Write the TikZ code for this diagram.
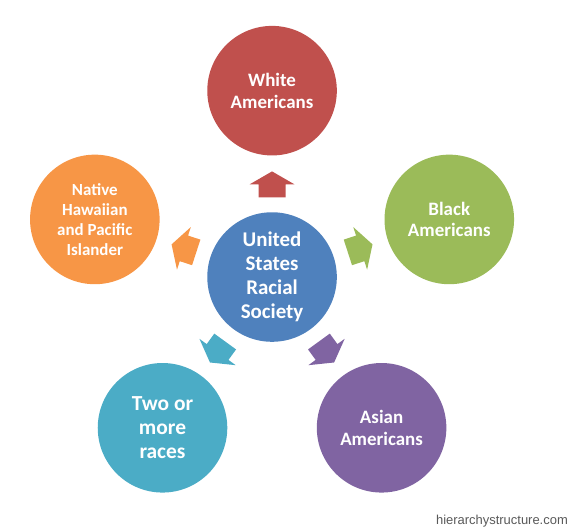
\documentclass[tikz,border=0pt]{standalone}
\usepackage{fontspec}
\setmainfont{Carlito}
\newfontfamily\markfont{Liberation Sans}
\definecolor{hubblue}{HTML}{4F81BD}
\definecolor{whitered}{HTML}{C0504D}
\definecolor{blackgreen}{HTML}{9BBB59}
\definecolor{asianpurple}{HTML}{8064A2}
\definecolor{twoaqua}{HTML}{4BACC6}
\definecolor{nativeorange}{HTML}{F79646}
\definecolor{markgray}{HTML}{595959}

\begin{document}
\begin{tikzpicture}[
		x=1pt, y=1pt,
		group/.style={circle, minimum size=130pt, inner sep=0pt, align=center, text=white},
	]
		\useasboundingbox (0,0) rectangle (572,530);

		\node (hub) [group, fill=hubblue, font=\fontsize{21}{24}\selectfont\bfseries] at (273,252) {United\\States\\Racial\\Society};

		\node (white) [group, fill=whitered, font=\fontsize{19}{22}\selectfont\bfseries] at ([shift={(90:187pt)}]hub.center) {White\\Americans};
		\node (black) [group, fill=blackgreen, font=\fontsize{19}{22}\selectfont\bfseries] at ([shift={(18:187pt)}]hub.center) {Black\\Americans};
		\node (asian) [group, fill=asianpurple, font=\fontsize{19}{22}\selectfont\bfseries] at ([shift={(-54:187pt)}]hub.center) {Asian\\Americans};
		\node (multi) [group, fill=twoaqua, font=\fontsize{21.5}{24}\selectfont\bfseries] at ([shift={(-126:187pt)}]hub.center) {Two or\\more\\races};
		\node (native) [group, fill=nativeorange, font=\fontsize{17}{20}\selectfont\bfseries] at ([shift={(162:187pt)}]hub.center) {Native\\Hawaiian\\and Pacific\\Islander};

		% block arrows from the hub outwards
		\foreach \ang/\col in {90/whitered, 18/blackgreen, -54/asianpurple, -126/twoaqua, 162/nativeorange}
			\fill[\col, shift={(hub.center)}, rotate=\ang] (80,-13.5) -- (93,-13.5) -- (93,-22.5) -- (106,0) -- (93,22.5) -- (93,13.5) -- (80,13.5) -- cycle;

		\node (mark) [anchor=base east, inner sep=0pt, text=markgray, font=\markfont\fontsize{13}{15}\selectfont] at (570,4) {hierarchystructure.com};
	\end{tikzpicture}
\end{document}
